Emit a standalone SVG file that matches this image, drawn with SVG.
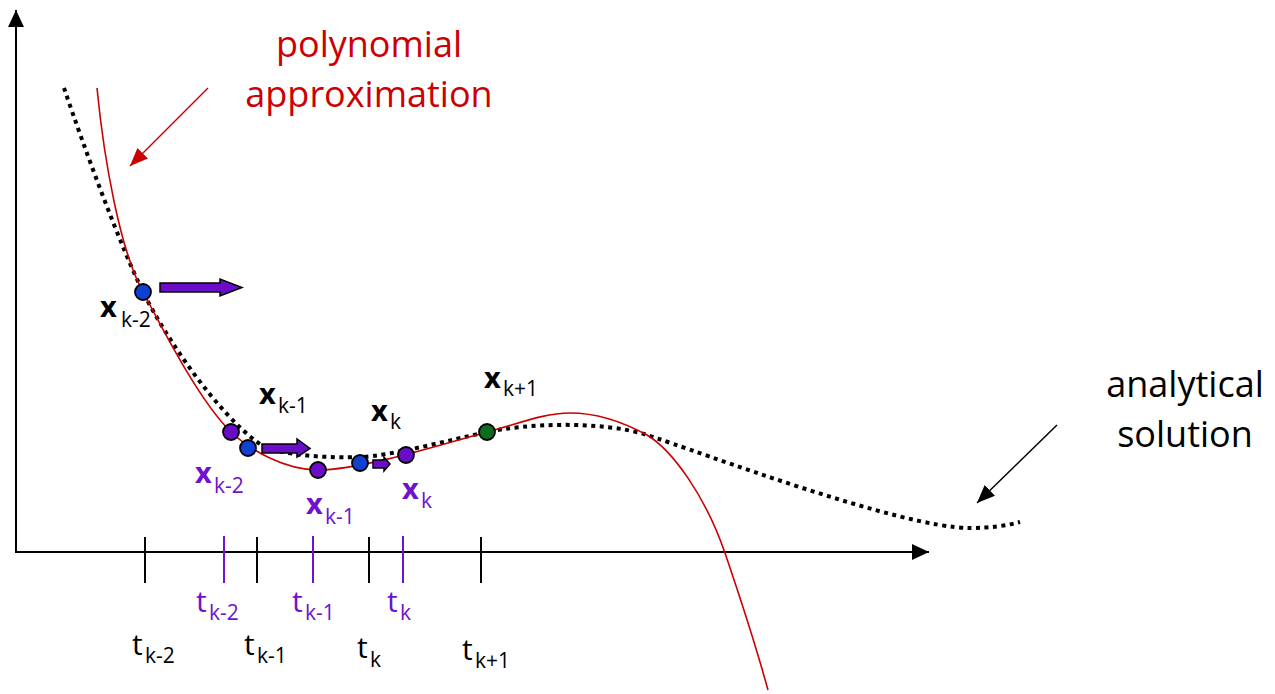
<svg xmlns="http://www.w3.org/2000/svg" width="1275" height="694" viewBox="0 0 1275 694">
<style>
text{font-family:"Open Sans","Noto Sans","Liberation Sans",sans-serif}
.big{font-size:36px;text-anchor:middle}
.xm{font-size:29px;font-weight:bold}
.xs{font-size:21px}
.tm{font-size:30px}
.ts{font-size:21px}
.blk{fill:#000}
.pur{fill:#6E12CF}
.axis{stroke:#000;stroke-width:2;fill:none}
.tick{stroke:#000;stroke-width:2}
.ptick{stroke:#6E12CF;stroke-width:2}
.dot{stroke:#000;stroke-width:1.8}
.blue{fill:#1141D3}
.purd{fill:#6A0DC8}
.green{fill:#0B6B1E}
.parrow{fill:#6A0DC8;stroke:#000;stroke-width:1.5;stroke-linejoin:miter}
</style>
<defs>
<marker id="ahBlack" markerUnits="userSpaceOnUse" markerWidth="20" markerHeight="20" refX="17" refY="8" orient="auto"><path d="M0,0 L17,8 L0,16 Z" fill="#000"/></marker>
<marker id="ahRed" markerUnits="userSpaceOnUse" markerWidth="20" markerHeight="20" refX="18" refY="7.5" orient="auto"><path d="M0,0 L18,7.5 L0,15 Z" fill="#CC0000"/></marker>
<marker id="ahBlk2" markerUnits="userSpaceOnUse" markerWidth="20" markerHeight="20" refX="18" refY="7.5" orient="auto"><path d="M0,0 L18,7.5 L0,15 Z" fill="#000"/></marker>
</defs>
<g id="axes">
<line class="axis" x1="16" y1="553" x2="16" y2="10" marker-end="url(#ahBlack)"/>
<line class="axis" x1="15" y1="552" x2="929" y2="552" marker-end="url(#ahBlack)"/>
</g>
<g id="ticks">
<line class="tick" x1="145" y1="537" x2="145" y2="583"/>
<line class="tick" x1="257" y1="537" x2="257" y2="583"/>
<line class="tick" x1="369" y1="537" x2="369" y2="583"/>
<line class="tick" x1="481" y1="537" x2="481" y2="583"/>
<line class="ptick" x1="224" y1="536" x2="224" y2="583"/>
<line class="ptick" x1="313" y1="536" x2="313" y2="583"/>
<line class="ptick" x1="403" y1="536" x2="403" y2="583"/>
</g>
<g id="analytical-curve">
<path d="M64,88 C85,150 120,245 143,292 C167,340 217,412 257,442 C278,457 335,458 360,457 C390,456 450,440 487,432 C524,424 600,420 647,435 C700,452 900,528 970,528 C990,528 1005,526 1020,522" fill="none" stroke="#000" stroke-width="4" stroke-dasharray="4 4.5"/>
</g>
<g id="polynomial-curve">
<path d="M97,88 C104,160 120,250 143,292 C158,320 198,400 231,432 C250,450 285,470 318,470 C360,470 440,445 487,432 C520,423 545,413 570,413 C600,413 625,423 647,435 C672,450 705,495 725,553 C740,597 757,650 768,690" fill="none" stroke="#CC0000" stroke-width="1.6"/>
</g>
<g id="connectors">
<line x1="208" y1="88" x2="130" y2="166" stroke="#CC0000" stroke-width="1.5" marker-end="url(#ahRed)"/>
<line x1="1057" y1="425" x2="977" y2="503" stroke="#000" stroke-width="1.5" marker-end="url(#ahBlk2)"/>
<polygon class="parrow" points="160,283 220,283 220,279 242,287.5 220,296 220,292 160,292"/>
<polygon class="parrow" points="262,444 297,444 297,439 310,448.5 297,457 297,453 262,453"/>
<polygon class="parrow" points="373,460 384,460 384,457 390,464 384,471 384,468 373,468"/>
</g>
<g id="node-xk-2-blue"><circle class="dot blue" cx="143" cy="292" r="8"/></g>
<g id="node-xk-2-purple"><circle class="dot purd" cx="231" cy="432" r="8"/></g>
<g id="node-xk-1-blue"><circle class="dot blue" cx="248" cy="448" r="8"/></g>
<g id="node-xk-1-purple"><circle class="dot purd" cx="318" cy="470" r="8"/></g>
<g id="node-xk-blue"><circle class="dot blue" cx="360" cy="463" r="8"/></g>
<g id="node-xk-purple"><circle class="dot purd" cx="406" cy="455" r="8"/></g>
<g id="node-xk+1-green"><circle class="dot green" cx="487" cy="432" r="8"/></g>
<g id="label-polynomial">
<text class="big" x="369" y="57" fill="#CC0000">polynomial</text>
<text class="big" x="369" y="107" fill="#CC0000">approximation</text>
</g>
<g id="label-analytical">
<text class="big blk" x="1185" y="397">analytical</text>
<text class="big blk" x="1185" y="447">solution</text>
</g>
<g id="x-labels">
<text class="blk"><tspan class="xm" x="100" y="317">x</tspan><tspan class="xs" x="121" y="327">k-2</tspan></text>
<text class="blk"><tspan class="xm" x="259" y="404">x</tspan><tspan class="xs" x="278" y="413">k-1</tspan></text>
<text class="blk"><tspan class="xm" x="371" y="421">x</tspan><tspan class="xs" x="390" y="429">k</tspan></text>
<text class="blk"><tspan class="xm" x="484" y="388">x</tspan><tspan class="xs" x="503" y="396">k+1</tspan></text>
<text class="pur"><tspan class="xm" x="195" y="483">x</tspan><tspan class="xs" x="214" y="493">k-2</tspan></text>
<text class="pur"><tspan class="xm" x="306" y="514">x</tspan><tspan class="xs" x="325" y="524">k-1</tspan></text>
<text class="pur"><tspan class="xm" x="402" y="499">x</tspan><tspan class="xs" x="421" y="508">k</tspan></text>
</g>
<g id="t-labels">
<text class="pur"><tspan class="tm" x="196" y="612">t</tspan><tspan class="ts" x="209" y="620">k-2</tspan></text>
<text class="pur"><tspan class="tm" x="292" y="612">t</tspan><tspan class="ts" x="305" y="620">k-1</tspan></text>
<text class="pur"><tspan class="tm" x="387" y="612">t</tspan><tspan class="ts" x="400" y="620">k</tspan></text>
<text class="blk"><tspan class="tm" x="132" y="655">t</tspan><tspan class="ts" x="145" y="663">k-2</tspan></text>
<text class="blk"><tspan class="tm" x="244" y="655">t</tspan><tspan class="ts" x="257" y="663">k-1</tspan></text>
<text class="blk"><tspan class="tm" x="357" y="658">t</tspan><tspan class="ts" x="370" y="667">k</tspan></text>
<text class="blk"><tspan class="tm" x="462" y="660">t</tspan><tspan class="ts" x="475" y="668">k+1</tspan></text>
</g>
</svg>
